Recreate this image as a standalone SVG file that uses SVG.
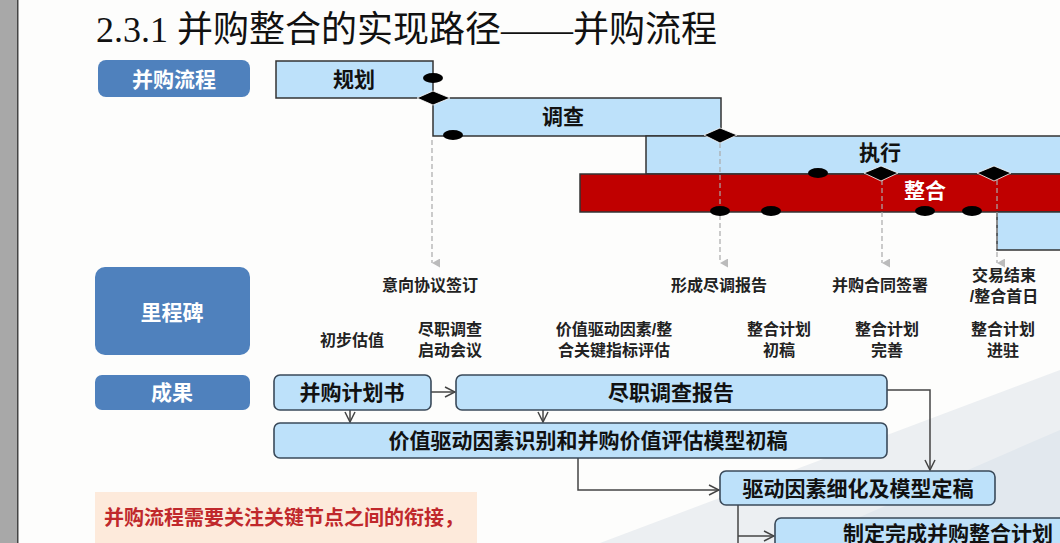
<svg xmlns="http://www.w3.org/2000/svg" width="1060" height="543" viewBox="0 0 1060 543">
<defs>
<style>
.lab{fill:#4F81BD;}
.labt{font-family:"Liberation Sans","Noto Sans CJK SC",sans-serif;font-size:21px;font-weight:bold;fill:#fff;text-anchor:middle;}
.bar{fill:#BDE1FA;stroke:#333;stroke-width:1.5;}
.red{fill:#C00000;stroke:#333;stroke-width:1.5;}
.bart{font-family:"Liberation Sans","Noto Sans CJK SC",sans-serif;font-size:21px;font-weight:bold;fill:#111;text-anchor:middle;}
.ms{font-family:"Liberation Sans","Noto Sans CJK SC",sans-serif;font-size:16px;font-weight:bold;fill:#222;text-anchor:middle;}
.box{fill:#BDE1FA;stroke:#3a4a5a;stroke-width:1.6;}
.boxt{font-family:"Liberation Sans","Noto Sans CJK SC",sans-serif;font-size:21px;font-weight:bold;fill:#111;text-anchor:middle;}
.dash{stroke:#aaa;stroke-width:1.2;stroke-dasharray:5,3;fill:none;}
.conn{stroke:#444;stroke-width:1.5;fill:none;}
.dot{fill:#000;}
</style>
<marker id="ga" viewBox="0 0 10 10" refX="5" refY="9" markerWidth="9" markerHeight="9" orient="auto-start-reverse" markerUnits="userSpaceOnUse">
<path d="M0,0 L10,0 L5,9 Z" fill="#bbb"/>
</marker>
<marker id="oa" viewBox="0 0 12 12" refX="11" refY="6" markerWidth="12" markerHeight="12" orient="auto" markerUnits="userSpaceOnUse">
<path d="M1,1 L11,6 L1,11" fill="none" stroke="#444" stroke-width="1.5"/>
</marker>
</defs>
<rect x="0" y="0" width="1060" height="543" fill="#fdfdfc"/>
<polygon points="600,543 1060,370 1060,543" fill="#eceff2"/>
<polygon points="800,543 1060,430 1060,543" fill="#e2e8ee"/>
<rect x="0" y="0" width="17" height="543" fill="#a8a8a8"/>
<rect x="17" y="0" width="1.5" height="543" fill="#444"/>
<text x="96" y="42" font-family="Liberation Serif,'Noto Sans CJK SC',serif" font-size="36" fill="#111">2.3.1 并购整合的实现路径——并购流程</text>

<g id="label-process"><rect class="lab" x="98" y="60" width="152" height="37" rx="8"/><text class="labt" x="174" y="87">并购流程</text></g>
<g id="label-milestone"><rect class="lab" x="95" y="267" width="155" height="88" rx="10"/><text class="labt" x="172" y="320">里程碑</text></g>
<g id="label-result"><rect class="lab" x="95" y="375" width="155" height="35" rx="7"/><text class="labt" x="172" y="400">成果</text></g>

<g id="bar-plan"><rect class="bar" x="276" y="61" width="157" height="37"/><text class="bart" x="354" y="87">规划</text></g>
<g id="bar-survey"><rect class="bar" x="433" y="98" width="288" height="38"/><text class="bart" x="563" y="124">调查</text></g>
<g id="bar-exec"><rect class="bar" x="646" y="136" width="420" height="38"/><text class="bart" x="880" y="160">执行</text></g>
<g id="bar-integrate"><rect class="red" x="580" y="174" width="486" height="38"/><text class="bart" x="925" y="198" style="fill:#fff">整合</text></g>
<g id="bar-extra"><rect class="bar" x="997" y="212" width="70" height="38"/></g>

<g id="connectors">
<line class="dash" x1="432" y1="140" x2="432" y2="263" marker-end="url(#ga)"/>
<line class="dash" x1="720" y1="143" x2="720" y2="263" marker-end="url(#ga)"/>
<line class="dash" x1="882" y1="180" x2="882" y2="263" marker-end="url(#ga)"/>
<line class="dash" x1="997" y1="180" x2="997" y2="263" marker-end="url(#ga)"/>
<line class="conn" x1="431" y1="392" x2="455" y2="392" marker-end="url(#oa)"/>
<line class="conn" x1="350" y1="410" x2="350" y2="422" marker-end="url(#oa)"/>
<line class="conn" x1="543" y1="410" x2="543" y2="422" marker-end="url(#oa)"/>
<polyline class="conn" points="887,390 930,390 930,470" marker-end="url(#oa)"/>
<polyline class="conn" points="578,458 578,490 719,490" marker-end="url(#oa)"/>
<polyline class="conn" points="738,505 738,543"/>
<polyline class="conn" points="738,536 774,536" marker-end="url(#oa)"/>
</g>

<g id="markers">
<ellipse class="dot" cx="433" cy="78" rx="10" ry="5"/>
<polygon class="dot" points="417,98 433,91 450,98 433,105" stroke="#fff" stroke-width="0.8"/>
<ellipse class="dot" cx="453" cy="135" rx="10" ry="5"/>
<polygon class="dot" points="704,135 720,128 737,135 720,143" stroke="#fff" stroke-width="0.8"/>
<ellipse class="dot" cx="818" cy="173" rx="10" ry="5"/>
<polygon class="dot" points="864,173 881,166 898,173 881,181" stroke="#fff" stroke-width="0.8"/>
<polygon class="dot" points="977,173 994,166 1011,173 994,181" stroke="#fff" stroke-width="0.8"/>
<ellipse class="dot" cx="720" cy="211" rx="10" ry="5"/>
<ellipse class="dot" cx="771" cy="211" rx="10" ry="5"/>
<ellipse class="dot" cx="925" cy="211" rx="10" ry="5"/>
<ellipse class="dot" cx="972" cy="211" rx="10" ry="5"/>
</g>

<g id="milestones">
<text class="ms" x="430" y="291">意向协议签订</text>
<text class="ms" x="719" y="291">形成尽调报告</text>
<text class="ms" x="880" y="291">并购合同签署</text>
<text class="ms" x="1004" y="281">交易结束</text>
<text class="ms" x="1004" y="302">/整合首日</text>
<text class="ms" x="352" y="346">初步估值</text>
<text class="ms" x="450" y="335">尽职调查</text>
<text class="ms" x="450" y="356">启动会议</text>
<text class="ms" x="614" y="335">价值驱动因素/整</text>
<text class="ms" x="614" y="356">合关键指标评估</text>
<text class="ms" x="779" y="335">整合计划</text>
<text class="ms" x="779" y="356">初稿</text>
<text class="ms" x="887" y="335">整合计划</text>
<text class="ms" x="887" y="356">完善</text>
<text class="ms" x="1003" y="335">整合计划</text>
<text class="ms" x="1003" y="356">进驻</text>
</g>

<g id="box-plan"><rect class="box" x="274" y="375" width="157" height="35" rx="6"/><text class="boxt" x="352" y="400">并购计划书</text></g>
<g id="box-dd"><rect class="box" x="456" y="375" width="431" height="35" rx="6"/><text class="boxt" x="671" y="400">尽职调查报告</text></g>
<g id="box-value"><rect class="box" x="274" y="423" width="613" height="35" rx="6"/><text class="boxt" x="588" y="448">价值驱动因素识别和并购价值评估模型初稿</text></g>
<g id="box-final"><rect class="box" x="720" y="471" width="275" height="34" rx="6"/><text class="boxt" x="858" y="496">驱动因素细化及模型定稿</text></g>
<g id="box-integ"><rect class="box" x="775" y="518" width="300" height="40" rx="6"/><text class="boxt" x="948" y="541">制定完成并购整合计划</text></g>

<g id="callout"><rect x="95" y="492" width="382" height="55" fill="#FDEADB"/><text x="104" y="525" font-family="Liberation Sans,'Noto Sans CJK SC',sans-serif" font-size="20" font-weight="bold" fill="#C0282B">并购流程需要关注关键节点之间的衔接，</text></g>
</svg>
